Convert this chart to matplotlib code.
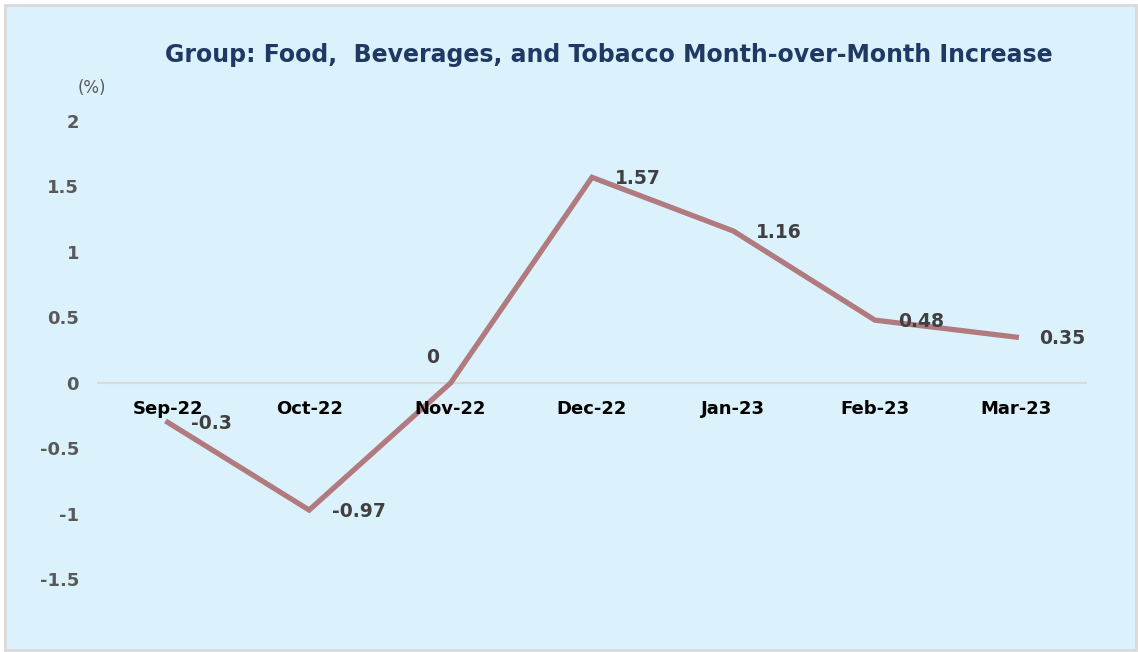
import matplotlib.pyplot as plt
from matplotlib.patches import Rectangle

# data
months = ['Sep-22', 'Oct-22', 'Nov-22', 'Dec-22', 'Jan-23', 'Feb-23', 'Mar-23']
mom_change = [-0.3, -0.97, 0, 1.57, 1.16, 0.48, 0.35]
label_text = ['-0.3', '-0.97', '0', '1.57', '1.16', '0.48', '0.35']
y_ticks = [-1.5, -1, -0.5, 0, 0.5, 1, 1.5, 2]
y_tick_labels = ['-1.5', '-1', '-0.5', '0', '0.5', '1', '1.5', '2']

bg = '#DBF2FC'
fig = plt.figure(figsize=(11.38, 6.52), dpi=100, facecolor='white')
fig.patches.append(Rectangle((5 / 1138, 2 / 652), 1131 / 1138, 645 / 652,
                             transform=fig.transFigure, facecolor=bg,
                             edgecolor='#D9D9D9', linewidth=2, zorder=-5))

ax = fig.add_axes([97 / 1138, 1 - 645 / 652, 990 / 1138, 524 / 652])
ax.set_facecolor('none')
ax.set_zorder(2)
x = list(range(len(months)))

ax.axhline(0, color='#D9D9D9', linewidth=1.6, zorder=1)
ax.plot(x, mom_change, color='#B07A7E', linewidth=3.8, zorder=3,
        solid_joinstyle='miter')

for i, (v, t) in enumerate(zip(mom_change, label_text)):
    if v == 0:
        off = (-18, 25)
        ha = 'center'
    else:
        off = (23, -1)
        ha = 'left'
    ax.annotate(t, (i, v), xytext=off, textcoords='offset pixels',
                ha=ha, va='center', fontsize=13.5, fontweight='bold',
                color='#404040', zorder=4)

# category labels under the zero line
for i, m in enumerate(months):
    ax.annotate(m, (i, 0), xytext=(0, -26), textcoords='offset pixels',
                ha='center', va='center', fontsize=13, fontweight='bold',
                color='black')

ax.set_xlim(-0.5, 6.5)
ax.set_ylim(-2, 2)
ax.set_xticks([])
ax.set_yticks(y_ticks)
ax.set_yticklabels(y_tick_labels, fontsize=13, fontweight='bold', color='#595959')
ax.tick_params(axis='y', length=0, pad=13)
for s in ax.spines.values():
    s.set_visible(False)

fig.text(92 / 1138, 1 - 88 / 652, '(%)', ha='center', va='center',
         fontsize=12, color='#595959')
fig.text(609 / 1138, 1 - 55 / 652,
         'Group: Food,  Beverages, and Tobacco Month-over-Month Increase',
         ha='center', va='center', fontsize=17, fontweight='bold',
         color='#1F3864')

fig.savefig('out.png', dpi=100, facecolor=fig.get_facecolor())
